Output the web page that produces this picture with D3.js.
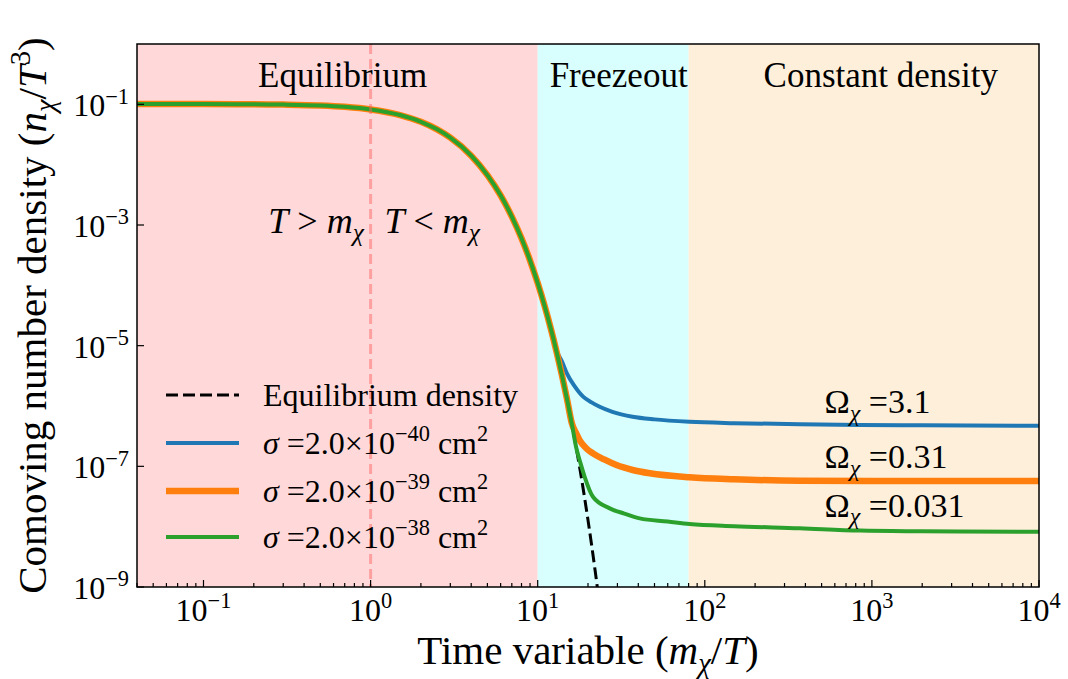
<!DOCTYPE html>
<html><head><meta charset="utf-8">
<script src="https://cdn.jsdelivr.net/npm/d3@7"></script>
<style>
body{margin:0;background:#fff}
svg text, svg tspan{font-family:"Liberation Serif","DejaVu Serif","Noto Serif","Times New Roman",serif;fill:#000}
</style>
</head><body>
<svg id="chart" width="1068" height="679" font-family="Liberation Serif, DejaVu Serif, serif"></svg>
<script>
// ---------- data ----------
const xDomain = [0.04, 1e4];
const yDomain = [1e-9, 1];

const regionNames  = ["Equilibrium", "Freezeout", "Constant density"];
const regionStart  = [0.04, 10, 80];
const regionEnd    = [10, 80, 1e4];
const regionColors = ["#ffd9d9", "#d8fffe", "#feefdb"];
const regionLabelX = [0.68, 30.5, 1130];

// equilibrium density
const eqX = [0.04,0.1,0.2,0.3,0.5,0.7,1,1.5,2,2.5,3,4,5,6,7,8,9,10,11,12,13,14,15,16,17,18,19,20,21,22,23];
const eqY = [0.1013,0.1011,0.1003,0.0990,0.0956,0.0908,0.0823,0.0665,0.0514,0.03846,0.02804,0.01411,0.006724,0.003098,0.001376,6.01e-4,2.577e-4,1.09e-4,4.554e-5,1.884e-5,7.73e-6,3.147e-6,1.273e-6,5.124e-7,2.051e-7,8.175e-8,3.244e-8,1.283e-8,5.056e-9,1.986e-9,7.78e-10];

// freeze-out solutions: equilibrium part + departing tail
const blueTailX = [13,14,15,16.5,18.7,21,23.5,28,37,50,81,150,370,848,2000,10000];
const blueTailY = [8.2e-6,5.4e-6,3.4e-6,2.2e-6,1.43e-6,1.15e-6,9.7e-7,8.0e-7,6.64e-7,6.0e-7,5.48e-7,5.2e-7,4.98e-7,4.84e-7,4.78e-7,4.71e-7];
const orangeTailX = [16,17,17.8,19.5,21.4,25,29.6,37,46.9,81,150,370,1000,10000];
const orangeTailY = [5.2e-7,3.5e-7,2.73e-7,2.0e-7,1.64e-7,1.30e-7,1.05e-7,8.7e-8,7.66e-8,6.58e-8,6.1e-8,5.78e-8,5.74e-8,5.71e-8];
const greenTailX = [18,19.1,21.4,27,33,40.8,60,81,150,370,848,2000,10000];
const greenTailY = [1.15e-7,6.7e-8,3.13e-8,2.01e-8,1.65e-8,1.37e-8,1.22e-8,1.11e-8,1.02e-8,9.4e-9,8.6e-9,8.4e-9,8.24e-9];

const seriesExponents = ["−40", "−39", "−38"];
const seriesColors = ["#1f77b4", "#ff7f0e", "#2ca02c"];
const seriesWidths = [4, 6.5, 4];
const omegaLabels = ["3.1", "0.31", "0.031"];
const omegaLabelX = 520;
const omegaLabelY = [7.6e-7, 9.3e-8, 1.45e-8];

const xTickExps = [-1, 0, 1, 2, 3, 4];
const yTickExps = [-1, -3, -5, -7, -9];

// ---------- layout ----------
const svg = d3.select("#chart");
const L = 137, R = 1039, T = 44, B = 587;
const x = d3.scaleLog().domain(xDomain).range([L, R]);
const y = d3.scaleLog().domain(yDomain).range([B, T]);

// rich text helper: parts = [{t, it, sub, sup}]
function build(parent, parts, size, attrs) {
  const t = parent.append("text").attr("font-size", size);
  Object.entries(attrs).forEach(([k,v]) => t.attr(k, v));
  let off = 0;
  parts.forEach(p => {
    const target = p.sub ? 0.22*size : p.sup ? -0.40*size : 0;
    const s = t.append("tspan").text(p.t).attr("dy", target - off);
    off = target;
    if (p.it) s.attr("font-style", "italic");
    if (p.sub || p.sup) s.attr("font-size", 0.7*size);
  });
  return t;
}
function fit(parent, parts, width, attrs, maxSize) {
  const probe = build(parent, parts, 40, attrs);
  const w = probe.node().getComputedTextLength();
  probe.remove();
  let s = 40 * width / w;
  if (maxSize) s = Math.min(s, maxSize);
  return build(parent, parts, s, attrs);
}

svg.append("defs").append("clipPath").attr("id","clip")
  .append("rect").attr("x",L).attr("y",T).attr("width",R-L).attr("height",B-T);

// regions
regionNames.forEach((n,i)=>{
  svg.append("rect").attr("x", x(regionStart[i])).attr("y", T)
    .attr("width", x(regionEnd[i]) - x(regionStart[i])).attr("height", B - T)
    .attr("fill", regionColors[i]);
});
const regionW = [178, 139, 253];
regionNames.forEach((n,i)=>{
  fit(svg, [{t:n}], regionW[i], {x: x(regionLabelX[i]), y: 87, "text-anchor": "middle"}, 35);
});

// T > m / T < m
const tY = 7.4e-4;
build(svg, [{t:"T",it:1},{t:" > "},{t:"m",it:1},{t:"χ",it:1,sub:1}], 36, {x: x(0.91), y: y(tY), "text-anchor":"end"});
build(svg, [{t:"T",it:1},{t:" < "},{t:"m",it:1},{t:"χ",it:1,sub:1}], 36, {x: x(1.21), y: y(tY)});

// curves
const line = d3.line().x(d=>x(d[0])).y(d=>y(d[1])).curve(d3.curveMonotoneX);
const eqPts = eqX.map((v,i)=>[v, eqY[i]]);
const g = svg.append("g").attr("clip-path","url(#clip)");
g.append("path").datum(eqPts).attr("d", line).attr("fill","none")
  .attr("stroke","#000").attr("stroke-width",3).attr("stroke-dasharray","12,5");

const tailsX = [blueTailX, orangeTailX, greenTailX];
const tailsY = [blueTailY, orangeTailY, greenTailY];
tailsX.forEach((tx,k)=>{
  const pts = eqPts.filter(p => p[0] < tx[0]).concat(tx.map((v,i)=>[v, tailsY[k][i]]));
  g.append("path").datum(pts).attr("d", line).attr("fill","none")
    .attr("stroke", seriesColors[k]).attr("stroke-width", seriesWidths[k])
    .attr("stroke-linejoin","round");
});

// vertical dashed line at T = m
svg.append("line").attr("x1", x(1)).attr("x2", x(1)).attr("y1", T).attr("y2", B)
  .attr("stroke","#ff5a5a").attr("stroke-opacity",0.45).attr("stroke-width",3)
  .attr("stroke-dasharray","10,5");

// omega labels
const omegaW = [121, 138, 155];
omegaLabels.forEach((o,i)=>{
  fit(svg, [{t:"Ω"},{t:"χ",it:1,sub:1},{t:" =" + o}], omegaW[i], {x: x(omegaLabelX), y: y(omegaLabelY[i])}, 34);
});

// legend
const legX0 = 166, legX1 = 239, legTx = 263;
const legY = [395, 443, 491, 537];
svg.append("line").attr("x1",legX0).attr("x2",legX1).attr("y1",legY[0]).attr("y2",legY[0])
  .attr("stroke","#000").attr("stroke-width",3).attr("stroke-dasharray","12,5");
fit(svg, [{t:"Equilibrium density"}], 265, {x: legTx, y: legY[0]+11}, 32);
seriesExponents.forEach((e,i)=>{
  const yy = legY[i+1];
  svg.append("line").attr("x1",legX0).attr("x2",legX1).attr("y1",yy).attr("y2",yy)
    .attr("stroke",seriesColors[i]).attr("stroke-width",seriesWidths[i]);
  fit(svg, [{t:"σ",it:1},{t:" =2.0×10"},{t:e,sup:1},{t:" cm"},{t:"2",sup:1}], 257, {x: legTx, y: yy+11}, 32);
});

// frame
svg.append("rect").attr("x",L).attr("y",T).attr("width",R-L).attr("height",B-T)
  .attr("fill","none").attr("stroke","#000").attr("stroke-width",1.5);

// x ticks (inward)
const xt = svg.append("g");
for (let e = -2; e <= 3; e++) {
  for (let m = 1; m <= 9; m++) {
    const v = m * Math.pow(10, e);
    if (v < xDomain[0] || v > xDomain[1]) continue;
    const len = m === 1 ? 7 : 4;
    xt.append("line").attr("x1",x(v)).attr("x2",x(v)).attr("y1",B).attr("y2",B-len)
      .attr("stroke","#000").attr("stroke-width",1.2);
  }
}
xt.append("line").attr("x1",x(1e4)).attr("x2",x(1e4)).attr("y1",B).attr("y2",B-7).attr("stroke","#000").attr("stroke-width",1.2);

const tickSize = 32;
xTickExps.forEach(e=>{
  build(xt, [{t:"10"},{t: e < 0 ? "−" + (-e) : String(e), sup:1}], tickSize,
    {x: x(Math.pow(10,e)), y: 621, "text-anchor":"middle"});
});

// y ticks (inward)
yTickExps.forEach(e=>{
  const v = Math.pow(10,e);
  svg.append("line").attr("x1",L).attr("x2",L+7).attr("y1",y(v)).attr("y2",y(v))
    .attr("stroke","#000").attr("stroke-width",1.2);
  build(svg, [{t:"10"},{t:"−" + (-e), sup:1}], tickSize, {x: 129, y: y(v)+12, "text-anchor":"end"});
});

// axis labels
fit(svg, [{t:"Time variable ("},{t:"m",it:1},{t:"χ",it:1,sub:1},{t:"/"},{t:"T",it:1},{t:")"}], 395,
  {x: (L+R)/2, y: 664, "text-anchor":"middle"}, 41);
fit(svg, [{t:"Comoving number density ("},{t:"n",it:1},{t:"χ",it:1,sub:1},{t:"/"},{t:"T",it:1},{t:"3",sup:1},{t:")"}], 615,
  {transform: `translate(46,${(T+B)/2}) rotate(-90)`, "text-anchor":"middle"}, 41);
</script>
</body></html>
